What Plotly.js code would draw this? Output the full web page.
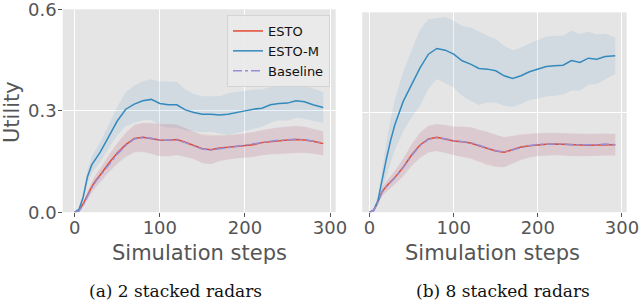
<!DOCTYPE html>
<html>
<head>
<meta charset="utf-8">
<script src="https://cdn.plot.ly/plotly-3.0.1.min.js"></script>
<style>html,body{margin:0;padding:0;background:#fff;}#chart{width:640px;height:302px;}</style>
</head>
<body>
<div id="chart"></div>
<script>
// Simulation steps (shared x grid)
const steps = [0,5,10,15,20,25,30,40,50,60,70,80,90,100,110,120,130,140,150,160,170,180,190,200,210,220,230,240,250,260,270,280,292];

// (a) 2 stacked radars
const a_esto      = [0,0.004,0.025,0.05,0.075,0.095,0.11,0.145,0.175,0.2,0.218,0.222,0.218,0.214,0.213,0.215,0.207,0.198,0.188,0.185,0.19,0.192,0.195,0.197,0.2,0.206,0.209,0.212,0.214,0.215,0.214,0.21,0.203];
const a_esto_sd   = [0,0.003,0.008,0.012,0.015,0.018,0.02,0.025,0.03,0.035,0.04,0.042,0.045,0.048,0.048,0.045,0.042,0.04,0.042,0.043,0.038,0.036,0.035,0.036,0.037,0.037,0.038,0.038,0.039,0.04,0.038,0.036,0.035];
const a_estom     = [0,0.008,0.045,0.105,0.14,0.16,0.178,0.224,0.27,0.305,0.32,0.33,0.334,0.322,0.318,0.318,0.303,0.295,0.29,0.29,0.288,0.29,0.296,0.3,0.305,0.308,0.318,0.322,0.323,0.33,0.327,0.318,0.31];
const a_estom_sd  = [0,0.004,0.01,0.02,0.025,0.028,0.03,0.035,0.042,0.05,0.055,0.058,0.06,0.065,0.068,0.068,0.06,0.055,0.053,0.052,0.055,0.062,0.06,0.06,0.058,0.055,0.053,0.05,0.052,0.05,0.05,0.048,0.046];
const a_base      = [0,0.003,0.022,0.047,0.072,0.092,0.108,0.142,0.172,0.198,0.217,0.221,0.219,0.213,0.214,0.214,0.206,0.197,0.187,0.184,0.188,0.192,0.196,0.199,0.202,0.206,0.21,0.213,0.215,0.216,0.215,0.211,0.205];
const a_base_sd   = [0,0.003,0.008,0.012,0.016,0.019,0.021,0.026,0.031,0.036,0.041,0.043,0.046,0.047,0.047,0.045,0.043,0.041,0.041,0.041,0.038,0.036,0.035,0.035,0.036,0.037,0.038,0.039,0.039,0.04,0.039,0.037,0.036];

// (b) 8 stacked radars
const b_esto      = [0,0.006,0.032,0.062,0.078,0.09,0.104,0.135,0.172,0.202,0.22,0.225,0.22,0.214,0.212,0.208,0.2,0.192,0.184,0.18,0.188,0.196,0.2,0.203,0.204,0.205,0.204,0.202,0.201,0.201,0.202,0.202,0.203];
const b_esto_sd   = [0,0.004,0.008,0.012,0.015,0.018,0.02,0.026,0.032,0.038,0.04,0.04,0.042,0.043,0.045,0.047,0.048,0.05,0.048,0.045,0.042,0.038,0.035,0.034,0.034,0.033,0.033,0.033,0.033,0.033,0.033,0.032,0.032];
const b_estom     = [0,0.006,0.035,0.1,0.16,0.215,0.262,0.333,0.385,0.434,0.475,0.492,0.487,0.475,0.455,0.445,0.432,0.43,0.425,0.41,0.402,0.41,0.422,0.43,0.438,0.44,0.442,0.456,0.45,0.463,0.46,0.468,0.47];
const b_estom_sd  = [0,0.005,0.015,0.035,0.05,0.065,0.075,0.09,0.1,0.115,0.105,0.092,0.1,0.1,0.105,0.11,0.11,0.1,0.095,0.09,0.085,0.085,0.085,0.088,0.09,0.09,0.088,0.09,0.085,0.08,0.075,0.068,0.055];
const b_base      = [0,0.005,0.03,0.06,0.077,0.09,0.103,0.134,0.17,0.2,0.219,0.224,0.221,0.215,0.211,0.209,0.201,0.193,0.185,0.181,0.187,0.195,0.2,0.204,0.205,0.206,0.205,0.203,0.202,0.203,0.203,0.205,0.203];
const b_base_sd   = [0,0.004,0.008,0.012,0.016,0.018,0.021,0.027,0.032,0.037,0.04,0.041,0.042,0.043,0.045,0.046,0.047,0.048,0.047,0.045,0.041,0.038,0.036,0.035,0.034,0.034,0.034,0.034,0.034,0.034,0.034,0.033,0.033];

const seriesNames = ['ESTO','ESTO-M','Baseline'];
const lineColors = ['#E24A33','#348ABD','#988ED5'];
const bandColors = ['rgba(226,74,51,0.12)','rgba(52,138,189,0.11)','rgba(152,142,213,0.10)'];

function band(mean, sd, color, xa, ya){
  const up = mean.map((m,i)=>m+sd[i]);
  const lo = mean.map((m,i)=>Math.max(0,m-sd[i]));
  return {x: steps.concat(steps.slice().reverse()), y: up.concat(lo.slice().reverse()),
    fill:'toself', fillcolor:color, line:{width:0}, mode:'lines', hoverinfo:'skip',
    showlegend:false, xaxis:xa, yaxis:ya};
}
function line(mean, idx, xa, ya, show){
  return {x: steps, y: mean, mode:'lines', name: seriesNames[idx],
    line:{color:lineColors[idx], width:1.5, dash: idx===2?'dashdot':'solid'},
    showlegend: show, xaxis:xa, yaxis:ya};
}

const panels = [
  {xa:'x', ya:'y', data:[[a_esto,a_esto_sd],[a_estom,a_estom_sd],[a_base,a_base_sd]], legend:true},
  {xa:'x2', ya:'y2', data:[[b_esto,b_esto_sd],[b_estom,b_estom_sd],[b_base,b_base_sd]], legend:false}
];
const traces = [];
panels.forEach(p=>{
  [1,0,2].forEach(i=>traces.push(band(p.data[i][0], p.data[i][1], bandColors[i], p.xa, p.ya)));
});
panels.forEach(p=>{
  [0,1,2].forEach(i=>traces.push(line(p.data[i][0], i, p.xa, p.ya, p.legend)));
});

const tickFont = {family:'DejaVu Sans', size:18, color:'#555555'};
const xTicks = [0,100,200,300];
const yTicks = [0,0.3,0.6];
const yTickText = ['0.0','0.3','0.6'];

function xaxis(domain, range){
  return {domain:domain, range:range, showgrid:true, gridcolor:'#ffffff', gridwidth:1,
    zeroline:false, showline:false, ticks:'outside', ticklen:3.5, tickcolor:'#555555', tickwidth:1,
    ticklabelstandoff:-4, ticklabeloverflow:'allow',
    tickvals:xTicks, ticktext:xTicks.map(String), tickfont:tickFont, fixedrange:true};
}
const layout = {
  width:640, height:302, autosize:false,
  margin:{l:0,r:0,t:0,b:0},
  paper_bgcolor:'#ffffff', plot_bgcolor:'#E5E5E5',
  xaxis: xaxis([0.09797,0.52453], [-14.1,306.7]),
  xaxis2: Object.assign(xaxis([0.56609,0.97922], [-8.6,305.6]), {anchor:'y2'}),
  yaxis: {domain:[0.29735,0.96921], range:[0,0.6008], showgrid:true, gridcolor:'#ffffff', gridwidth:1,
    zeroline:false, showline:false, ticks:'outside', ticklen:3.5, tickcolor:'#555555',
    ticklabelstandoff:-2, ticklabeloverflow:'allow',
    tickvals:yTicks, ticktext:yTickText, tickfont:tickFont},
  yaxis2: {domain:[0.29735,0.95927], range:[0,0.6008], anchor:'x2', showgrid:true, gridcolor:'#ffffff', gridwidth:1,
    zeroline:false, showline:false, ticks:'', showticklabels:false, tickvals:yTicks},
  showlegend:true,
  legend:{x:330/640, xanchor:'right', y:1-15/302, yanchor:'top',
    bgcolor:'rgba(234,234,234,0.9)', bordercolor:'#d4d4d4', borderwidth:1,
    font:{family:'DejaVu Sans', size:13, color:'#111111'}, tracegroupgap:0},
  annotations:[
    {text:'Utility', xref:'paper', yref:'paper', x:12/640, y:1-112/302, xanchor:'center', yanchor:'middle',
     textangle:-90, showarrow:false, font:{family:'DejaVu Sans', size:21, color:'#555555'}},
    {text:'Simulation steps', xref:'paper', yref:'paper', x:199/640, y:1-253/302, xanchor:'center', yanchor:'middle',
     showarrow:false, font:{family:'DejaVu Sans', size:21, color:'#555555'}},
    {text:'Simulation steps', xref:'paper', yref:'paper', x:492/640, y:1-253/302, xanchor:'center', yanchor:'middle',
     showarrow:false, font:{family:'DejaVu Sans', size:21, color:'#555555'}},
    {text:'(a) 2 stacked radars', xref:'paper', yref:'paper', x:175/640, y:1-291/302, xanchor:'center', yanchor:'middle',
     showarrow:false, font:{family:'DejaVu Serif', size:17, color:'#111111'}},
    {text:'(b) 8 stacked radars', xref:'paper', yref:'paper', x:503/640, y:1-291/302, xanchor:'center', yanchor:'middle',
     showarrow:false, font:{family:'DejaVu Serif', size:17, color:'#111111'}}
  ]
};
Plotly.newPlot('chart', traces, layout, {staticPlot:true, displayModeBar:false});
</script>
</body>
</html>
